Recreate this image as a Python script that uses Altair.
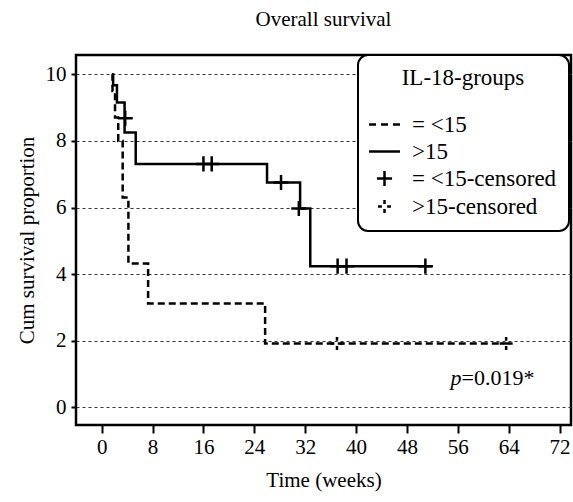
import altair as alt
import pandas as pd

# ---- data (time in weeks, cumulative survival) ----
low_time = [1.6, 1.7, 2.1, 2.6, 3.3, 4.2, 7.3, 25.7, 64.7]
low_surv = [10.0, 9.5, 8.7, 8.0, 6.3, 4.32, 3.12, 1.92, 1.92]
high_time = [1.7, 1.8, 2.4, 3.6, 5.35, 26.0, 31.2, 32.8, 51.9]
high_surv = [10.0, 9.67, 9.15, 8.25, 7.31, 6.75, 5.97, 4.24, 4.24]

plus_time = [3.7, 16.0, 17.3, 28.2, 31.0, 37.1, 38.5, 50.9]
plus_surv = [8.68, 7.31, 7.31, 6.75, 5.97, 4.24, 4.24, 4.24]
dot_time = [37.0, 63.6]
dot_surv = [1.92, 1.92]

groups = ["= <15", ">15", "= <15-censored", ">15-censored"]
x_ticks = [0, 8, 16, 24, 32, 40, 48, 56, 64, 72]
y_ticks = [0, 2, 4, 6, 8, 10]
p_label = ["p", "=0.019*"]

FONT = "Liberation Serif"

lines_df = pd.DataFrame({
    "t": low_time + high_time,
    "s": low_surv + high_surv,
    "g": [groups[0]] * len(low_time) + [groups[1]] * len(high_time),
})
cens_df = pd.DataFrame({
    "t": plus_time + dot_time,
    "s": plus_surv + dot_surv,
    "g": [groups[2]] * len(plus_time) + [groups[3]] * len(dot_time),
})
ann_df = pd.DataFrame({"t": [56.6], "s": [0.67]})

xscale = alt.Scale(domain=[-4.04, 73.8], nice=False, zero=False)
yscale = alt.Scale(domain=[-0.53, 10.58], nice=False, zero=False)

xaxis = alt.Axis(values=x_ticks, title="Time (weeks)", grid=False, tickSize=8,
                 labelPadding=3, titlePadding=12)
yaxis = alt.Axis(values=y_ticks, title="Cum survival proportion", grid=True,
                 gridDash=[3, 3], gridColor="#333333", gridWidth=1, tickSize=5,
                 labelPadding=5, titlePadding=8)

shape_paths = [
    "M-1.19,0H-0.65M-0.27,0H0.27M0.65,0H1.19",
    "M-1.19,0H1.19",
    "M-0.58,0H0.58M0,-0.58V0.58",
    "M0,-0.5V-0.2M0,0.2V0.5M-0.5,0H-0.2M0.2,0H0.5",
]

lines = alt.Chart(lines_df).mark_line(
    interpolate="step-after", color="black", strokeWidth=2.5
).encode(
    x=alt.X("t:Q", scale=xscale, axis=xaxis),
    y=alt.Y("s:Q", scale=yscale, axis=yaxis),
    strokeDash=alt.StrokeDash("g:N", scale=alt.Scale(domain=groups[:2], range=[[7, 4], [1, 0]]), legend=None),
    detail="g:N",
)

points = alt.Chart(cens_df).mark_point(
    size=676, strokeWidth=2.5, color="black", opacity=1, filled=False
).encode(
    x=alt.X("t:Q", scale=xscale),
    y=alt.Y("s:Q", scale=yscale),
    shape=alt.Shape("g:N", scale=alt.Scale(domain=groups, range=shape_paths),
                    legend=alt.Legend(title="IL-18-groups", orient="none",
                                      legendX=282, legendY=0)),
)

p_text = alt.Chart(ann_df).mark_text(
    text=p_label[0], align="right", baseline="alphabetic", font=FONT,
    fontSize=22, fontStyle="italic", color="black"
).encode(x=alt.X("t:Q", scale=xscale), y=alt.Y("s:Q", scale=yscale))

v_text = alt.Chart(ann_df).mark_text(
    text=p_label[1], align="left", baseline="alphabetic", font=FONT,
    fontSize=22, color="black"
).encode(x=alt.X("t:Q", scale=xscale), y=alt.Y("s:Q", scale=yscale))

chart = alt.layer(lines, points, p_text, v_text).properties(
    width=495, height=370,
    autosize=alt.AutoSizeParams(type="none"),
    padding={"left": 76, "top": 55, "right": 2, "bottom": 77},
    title=alt.TitleParams("Overall survival", font=FONT, fontSize=21,
                          fontWeight="normal", color="black", offset=24,
                          anchor="middle"),
    background="white",
).configure_view(
    stroke="black", strokeWidth=2.5
).configure_axis(
    domain=False, labelFont=FONT, labelFontSize=21, labelColor="black",
    titleFont=FONT, titleFontSize=21, titleFontWeight="normal", titleColor="black",
    tickColor="black", tickWidth=2
).configure_legend(
    titleFont=FONT, titleFontSize=23, titleFontWeight="normal", titleColor="black",
    titleAnchor="middle", titlePadding=20,
    labelFont=FONT, labelFontSize=23, labelColor="black", labelOffset=13,
    padding=12, rowPadding=0, strokeColor="black", strokeWidth=2,
    cornerRadius=10, fillColor="white",
    symbolSize=676, symbolStrokeWidth=2.5, symbolStrokeColor="black",
    symbolFillColor="transparent",
)

chart.save("out.html", embed_options={"renderer": "svg", "actions": False})
